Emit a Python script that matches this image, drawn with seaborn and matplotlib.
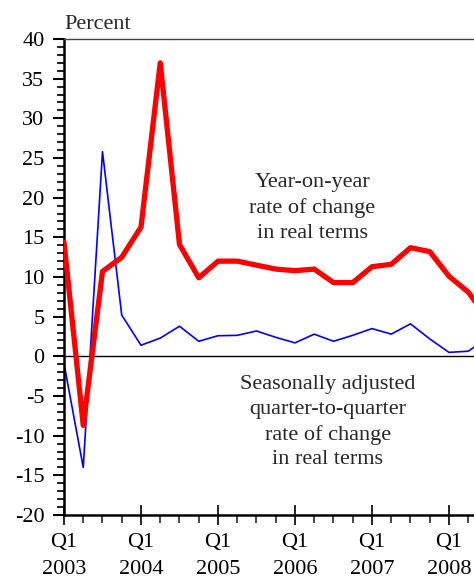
"""Real growth rates, quarterly 2003-2008"""

import matplotlib

matplotlib.use("Agg")
import matplotlib.pyplot as plt
from matplotlib.ticker import MultipleLocator
import pandas as pd
import seaborn as sns

# quarter index 0 = Q1 2003
quarters = list(range(23))
year_on_year = [14.4, -8.7, 10.7, 12.5, 16.3, 37.0, 14.1, 9.9, 12.0, 12.0, 11.5, 11.0,
                10.8, 11.0, 9.3, 9.3, 11.3, 11.6, 13.7, 13.2, 10.1, 8.1, 4.8]
quarter_on_quarter = [-0.9, -14.0, 25.8, 5.2, 1.4, 2.3, 3.8, 1.9, 2.6, 2.65, 3.2, 2.4,
                      1.7, 2.8, 1.9, 2.65, 3.5, 2.8, 4.1, 2.2, 0.5, 0.65, 2.3]
year_labels = ["2003", "2004", "2005", "2006", "2007", "2008"]

sns.set_style("ticks")
plt.rcParams["font.family"] = ["Liberation Serif", "DejaVu Serif"]
plt.rcParams["axes.unicode_minus"] = False

df = pd.DataFrame({"q": quarters, "yoy": year_on_year, "qoq": quarter_on_quarter})

fig = plt.figure(figsize=(4.74, 5.79), dpi=100)
ax = fig.add_axes([0.135, 0.1105, 0.865, 0.8221])

ax.axhline(0, color="black", lw=1.0, zorder=1)
sns.lineplot(data=df, x="q", y="qoq", color="#0000ff", lw=1.2, ax=ax, zorder=2)
sns.lineplot(data=df, x="q", y="yoy", color="#ff0000", lw=3.8, ax=ax, zorder=3)

ax.set_xlim(0, 21.3)
ax.set_ylim(-20, 40)
ax.set_xlabel("")
ax.set_ylabel("")

ax.yaxis.set_major_locator(MultipleLocator(5))
ax.yaxis.set_minor_locator(MultipleLocator(1))
ax.set_xticks([4 * i for i in range(len(year_labels))])
ax.set_xticklabels([f"Q1\n{y}" for y in year_labels], linespacing=1.55)
ax.xaxis.set_minor_locator(MultipleLocator(1))

ax.tick_params(axis="y", which="major", direction="out", length=8, width=1.5,
               labelsize=16, pad=6, colors="black")
ax.tick_params(axis="y", which="minor", direction="out", length=5, width=1.5)
ax.tick_params(axis="x", which="major", direction="inout", length=14, width=1.2,
               labelsize=16, pad=6, colors="black")
ax.tick_params(axis="x", which="minor", direction="out", length=6, width=1.2)

for side in ["left", "bottom"]:
    ax.spines[side].set_linewidth(1.8)
    ax.spines[side].set_color("black")
ax.spines["top"].set_linewidth(1.0)
ax.spines["top"].set_color("#444444")
ax.spines["right"].set_visible(False)

ax.text(0, 1.01, "Percent", transform=ax.transAxes, ha="left", va="bottom", fontsize=16)

ax.text(12.9, 18.7, "Year-on-year\nrate of change\nin real terms", ha="center", va="center",
        fontsize=16, linespacing=1.4)
ax.text(13.7, -8.3, "Seasonally adjusted\nquarter-to-quarter\nrate of change\nin real terms",
        ha="center", va="center", fontsize=16, linespacing=1.4)

fig.savefig("out.png", dpi=100)
plt.close(fig)
